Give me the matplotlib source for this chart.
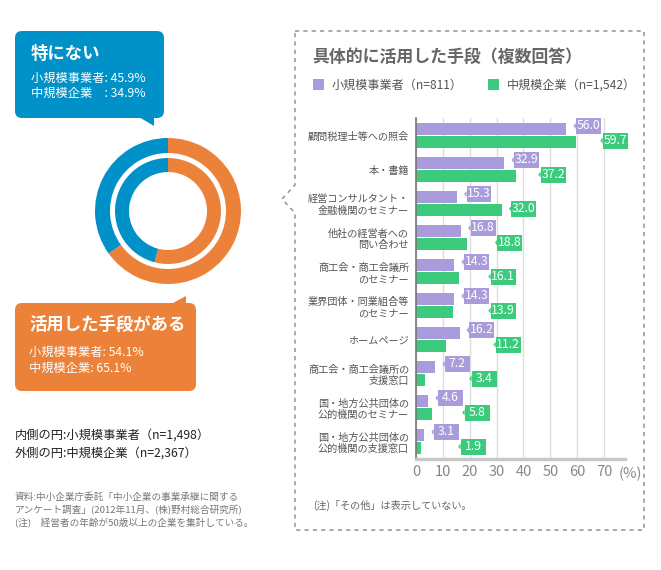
import numpy as np
import matplotlib
matplotlib.use("Agg")
import matplotlib.pyplot as plt
from matplotlib.patches import FancyBboxPatch, Polygon, Rectangle

plt.rcParams['font.family'] = ['Noto Sans CJK JP', 'DejaVu Sans']

# ---------------- data ----------------
categories = [
    "顧問税理士等への照会",
    "本・書籍",
    "経営コンサルタント・\n金融機関のセミナー",
    "他社の経営者への\n問い合わせ",
    "商工会・商工会議所\nのセミナー",
    "業界団体・同業組合等\nのセミナー",
    "ホームページ",
    "商工会・商工会議所の\n支援窓口",
    "国・地方公共団体の\n公的機関のセミナー",
    "国・地方公共団体の\n公的機関の支援窓口",
]
small_biz = [56.0, 32.9, 15.3, 16.8, 14.3, 14.3, 16.2, 7.2, 4.6, 3.1]
medium_biz = [59.7, 37.2, 32.0, 18.8, 16.1, 13.9, 11.2, 3.4, 5.8, 1.9]
x_ticks = [0, 10, 20, 30, 40, 50, 60, 70]

donut_labels = ["活用した手段がある", "特にない"]
donut_inner = [54.1, 45.9]   # 小規模事業者
donut_outer = [65.1, 34.9]   # 中規模企業

legend_small = "小規模事業者（n=811）"
legend_medium = "中規模企業（n=1,542）"

# ---------------- style ----------------
PURPLE = "#AA9CDC"
GREEN = "#3CCB7D"
BLUE = "#0091C8"
ORANGE = "#EC8239"
GRAY_TXT = "#555555"

W, H = 661, 570
fig = plt.figure(figsize=(W / 100, H / 100), dpi=100)


def frac(x0, y0, x1, y1):
    return [x0 / W, 1 - y1 / H, (x1 - x0) / W, (y1 - y0) / H]


# ---------------- donut ----------------
axd = fig.add_axes(frac(88, 131, 248, 291))
axd.pie(donut_outer, radius=73, startangle=90, counterclock=False,
        colors=[ORANGE, BLUE], wedgeprops=dict(width=15, linewidth=0))
axd.pie(donut_inner, radius=53, startangle=90, counterclock=False,
        colors=[ORANGE, BLUE], wedgeprops=dict(width=14, linewidth=0))
axd.set_xlim(-80, 80)
axd.set_ylim(-80, 80)
axd.set_aspect('equal')
axd.axis('off')

# ---------------- bar chart ----------------
ax = fig.add_axes(frac(416, 118, 625, 459))
y = np.arange(len(categories))
bh = 0.355
ax.barh(y - 0.19, small_biz, height=bh, color=PURPLE, zorder=2)
ax.barh(y + 0.19, medium_biz, height=bh, color=GREEN, zorder=2)
ax.set_xlim(0, 77.8)
ax.set_ylim(len(categories) - 0.485, -0.515)
ax.set_xticks(x_ticks)
ax.set_xticklabels([str(t) for t in x_ticks])
ax.set_yticks(y)
ax.set_yticklabels(categories, fontsize=7.3, color=GRAY_TXT, linespacing=1.2)
ax.tick_params(axis='y', length=0, pad=5)
ax.tick_params(axis='x', length=0, pad=4, labelsize=10.5, labelcolor="#888888")
ax.xaxis.grid(True, color="#dddddd", linewidth=1)
ax.set_axisbelow(True)
for s in ["top", "right"]:
    ax.spines[s].set_visible(False)
ax.spines["left"].set_color("#777777")
ax.spines["left"].set_linewidth(1.2)
ax.spines["bottom"].set_color("#c8c8c8")
ax.spines["bottom"].set_linewidth(2.5)

BOXW, BOXH = 9.3, 0.47


def value_box(left, yc, val, color):
    ax.add_patch(Rectangle((left, yc - BOXH / 2), BOXW, BOXH, facecolor=color,
                           edgecolor='none', zorder=4, clip_on=False))
    ax.add_patch(Polygon([(left, yc - 0.09), (left - 0.9, yc), (left, yc + 0.09)],
                         closed=True, facecolor=color, edgecolor='none',
                         zorder=4, clip_on=False))
    ax.text(left + BOXW / 2, yc, f"{val:.1f}", ha='center', va='center',
            color='white', fontsize=8.8, zorder=5, clip_on=False)


for i, (s, m) in enumerate(zip(small_biz, medium_biz)):
    pl = s + 3.5
    gl = max(pl + 10, m + 3.5)
    value_box(pl, i - 0.28, s, PURPLE)
    value_box(gl, i + 0.15, m, GREEN)

# ---------------- overlay (pixel coords) ----------------
ov = fig.add_axes([0, 0, 1, 1], facecolor='none')
ov.set_xlim(0, W)
ov.set_ylim(H, 0)
ov.axis('off')

# dashed panel border with chevron
bx = [295, 644, 644, 295, 295, 282, 295, 295]
by = [31, 31, 530, 530, 213, 199, 185, 31]
ov.plot(bx, by, color="#888888", lw=1, linestyle=(0, (3, 3)))

# title + legend
ov.text(312, 57, "具体的に活用した手段（複数回答）", fontsize=12.2, fontweight='bold',
        color="#666666", ha='left', va='center')
ov.add_patch(Rectangle((313, 79), 11, 11, facecolor=PURPLE, edgecolor='none'))
ov.text(332, 85, legend_small, fontsize=8.7, color=GRAY_TXT, ha='left', va='center')
ov.add_patch(Rectangle((488, 79), 11, 11, facecolor=GREEN, edgecolor='none'))
ov.text(507, 85, legend_medium, fontsize=8.7, color=GRAY_TXT, ha='left', va='center')

ov.text(630, 474, "(%)", fontsize=10.5, color="#888888", ha='center', va='center')
ov.text(313, 505, "(注)「その他」は表示していない。", fontsize=7.3, color="#666666",
        ha='left', va='center')

# blue callout
ov.add_patch(FancyBboxPatch((15, 31), 149, 87, boxstyle="round,pad=0,rounding_size=7",
                            facecolor=BLUE, edgecolor='none'))
ov.add_patch(Polygon([(139, 117), (154, 117), (154, 126)], closed=True,
                     facecolor=BLUE, edgecolor='none'))
ov.text(31, 54, donut_labels[1], fontsize=12.5, fontweight='bold', color='white',
        ha='left', va='center')
ov.text(31, 78, f"小規模事業者: {donut_inner[1]}%", fontsize=8.8, color='white',
        ha='left', va='center')
ov.text(31, 93, f"中規模企業　: {donut_outer[1]}%", fontsize=8.8, color='white',
        ha='left', va='center')

# orange callout
ov.add_patch(FancyBboxPatch((15, 303), 181, 88, boxstyle="round,pad=0,rounding_size=7",
                            facecolor=ORANGE, edgecolor='none'))
ov.add_patch(Polygon([(171, 304), (186, 304), (186, 296)], closed=True,
                     facecolor=ORANGE, edgecolor='none'))
ov.text(29, 325, donut_labels[0], fontsize=12.5, fontweight='bold', color='white',
        ha='left', va='center')
ov.text(29, 352, f"小規模事業者: {donut_inner[0]}%", fontsize=8.8, color='white',
        ha='left', va='center')
ov.text(29, 368, f"中規模企業: {donut_outer[0]}%", fontsize=8.8, color='white',
        ha='left', va='center')

# notes
ov.text(15, 435, "内側の円:小規模事業者（n=1,498）", fontsize=8.8, color="#222222",
        ha='left', va='center')
ov.text(15, 453, "外側の円:中規模企業（n=2,367）", fontsize=8.8, color="#222222",
        ha='left', va='center')
ov.text(15, 497, "資料:中小企業庁委託「中小企業の事業承継に関する", fontsize=6.9,
        color="#777777", ha='left', va='center')
ov.text(15, 510, "アンケート調査」(2012年11月、(株)野村総合研究所)", fontsize=6.9,
        color="#777777", ha='left', va='center')
ov.text(15, 523, "(注)　経営者の年齢が50歳以上の企業を集計している。", fontsize=6.9,
        color="#777777", ha='left', va='center')

fig.savefig("out.png", dpi=100)
